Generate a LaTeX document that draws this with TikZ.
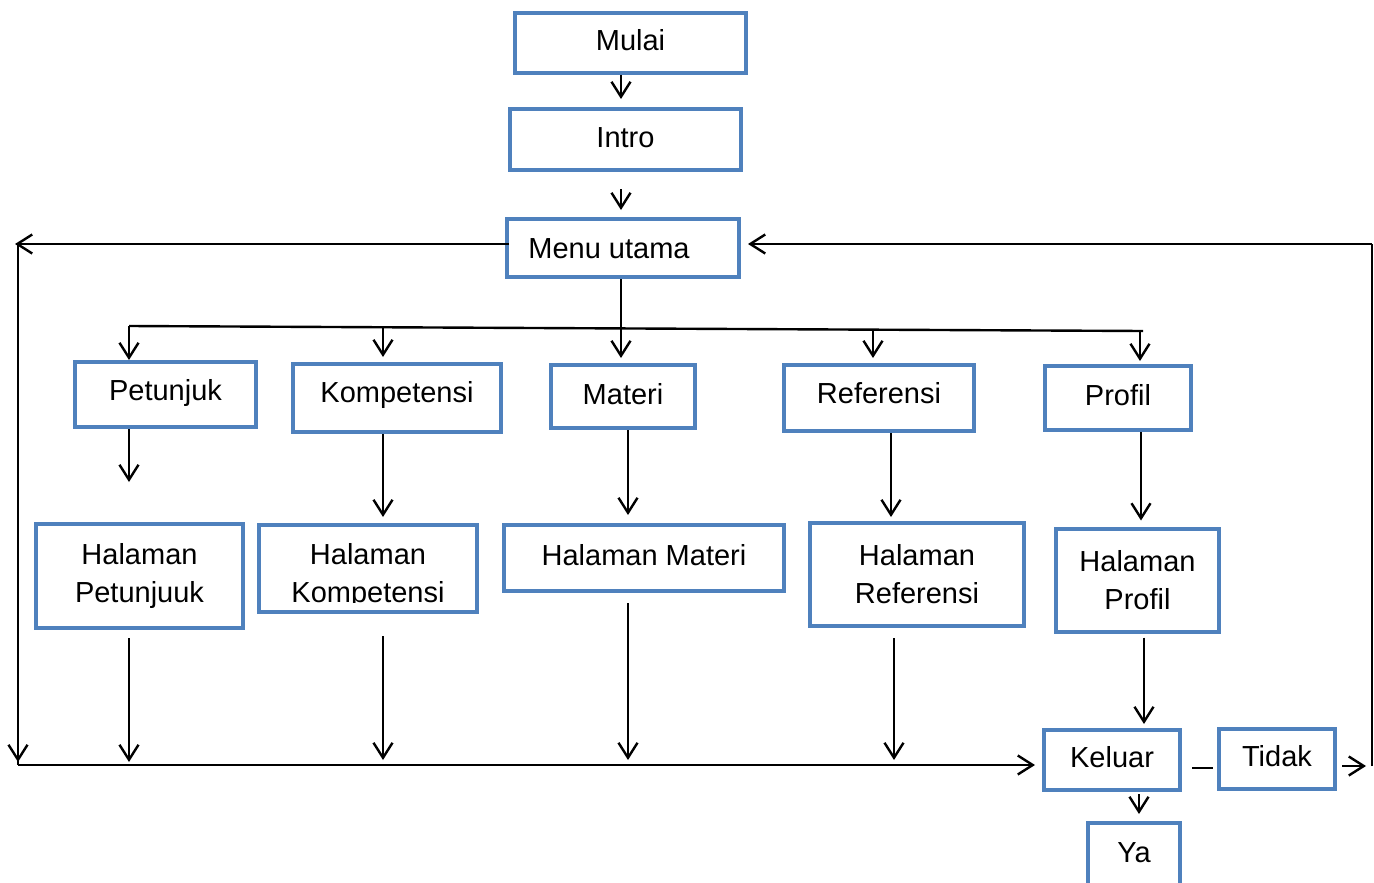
\documentclass[tikz,border=0pt]{standalone}
\usepackage{fontspec}
\setmainfont{Liberation Sans}
\usetikzlibrary{arrows.meta}
\definecolor{boxblue}{RGB}{79,129,189}
\begin{document}
\begin{tikzpicture}[x=1pt,y=-1pt,
  box/.style={draw=boxblue, line width=4pt, inner sep=0pt, align=center,
              font=\fontsize{29}{38}\selectfont},
  oneline/.style={text height=21pt, text depth=6pt},
  link/.style={line width=2.4pt, draw=black},
  arr/.style={link, -{Straight Barb[length=15pt,width=19pt,line width=2.4pt]}},
]
\useasboundingbox (0,0) rectangle (1374,883);

% ---- boxes ----
\node[box, oneline, minimum width=231pt, minimum height=60pt] (mulai) at (630.5,43) {Mulai};
\node[box, oneline, minimum width=231pt, minimum height=61pt] (intro) at (625.5,139.5) {Intro};
\node[box, text height=21pt, text depth=0pt, minimum width=232pt, minimum height=58pt] (menu) at (623,248) {\hspace*{-28pt}Menu utama};

\node[box, oneline, minimum width=181pt, minimum height=65pt] (petunjuk) at (165.5,394.5) {\raisebox{2pt}{Petunjuk}};
\node[box, oneline, minimum width=208pt, minimum height=68pt] (kompetensi) at (397,398) {\raisebox{3pt}{Kompetensi}};
\node[box, oneline, minimum width=144pt, minimum height=63pt] (materi) at (623,396.5) {Materi};
\node[box, oneline, minimum width=190pt, minimum height=66pt] (referensi) at (879,398) {\raisebox{2pt}{Referensi}};
\node[box, oneline, minimum width=146pt, minimum height=64pt] (profil) at (1118,398) {Profil};

\node[box, minimum width=207pt, minimum height=104pt] (hpetunjuk) at (139.5,576) {Halaman\\Petunjuuk};
% the second line of this page title runs into the frame and is cut off
\begin{scope}
  \clip (259,525) rectangle (477,602);
  \node[box, draw=none, minimum width=218pt, minimum height=87pt] (hkompetensi) at (368,575.5) {Halaman\\Kompetensi};
\end{scope}
\draw[draw=boxblue, line width=4pt] (259,525) rectangle (477,612);
\node[box, oneline, minimum width=280pt, minimum height=66pt] (hmateri) at (644,558) {Halaman Materi};
\node[box, minimum width=214pt, minimum height=103pt] (hreferensi) at (917,574.5) {Halaman\\Referensi};
\node[box, minimum width=163pt, minimum height=103pt] (hprofil) at (1137.5,580) {Halaman\\Profil};

\node[box, oneline, minimum width=136pt, minimum height=60pt] (keluar) at (1112,760) {Keluar};
\node[box, oneline, minimum width=116pt, minimum height=60pt] (tidak) at (1277,759) {Tidak};
% this box runs past the lower edge of the page
\node[box, oneline, minimum width=92pt, minimum height=100pt] (ya) at (1134,873) {\raisebox{18pt}{Ya}};

% ---- junction points ----
\coordinate (c1) at (129,326);
\coordinate (c2) at (383,327.3);
\coordinate (c3) at (621,328.4);
\coordinate (c4) at (873,329.7);
\coordinate (c5) at (1140,331);
\coordinate (c6) at (1143,331);
\coordinate (pfree) at (129,482);
\coordinate (mx) at (628,0);
\coordinate (rx) at (891,0);
\coordinate (fx) at (1141,0);
\coordinate (b1) at (129,765);
\coordinate (b2) at (383,765);
\coordinate (b3) at (628,765);
\coordinate (b4) at (894,765);
\coordinate (hx) at (1144,0);
\coordinate (yx) at (1139,0);
\coordinate (lt) at (18,244);
\coordinate (lb) at (18,765);
\coordinate (rt) at (1372,244);
\coordinate (rb) at (1372,766);

% ---- top chain ----
\draw[arr, shorten >=8pt] (mulai.south -| c3) -- (intro.north -| c3);
\draw[arr, shorten <=17pt, shorten >=7pt] (intro.south -| c3) -- (menu.north -| c3);

% ---- menu to sections ----
\draw[link] (c1) -- (c6);
\draw[arr] (c1) -- (petunjuk.north -| c1);
\draw[arr, shorten >=5pt] (c2) -- (kompetensi.north -| c2);
\draw[arr, shorten >=5pt] (menu.south -| c3) -- (materi.north -| c3);
\draw[arr, shorten >=5pt] (c4) -- (referensi.north -| c4);
\draw[arr, shorten >=3pt] (c5) -- (profil.north -| c5);

% ---- sections to pages ----
\draw[arr] (petunjuk.south -| pfree) -- (pfree);
\draw[arr, shorten >=13pt] (kompetensi.south -| c2) -- (hkompetensi.north -| c2);
\draw[arr, shorten >=8pt] (materi.south -| mx) -- (hmateri.north -| mx);
\draw[arr, shorten >=4pt] (referensi.south -| rx) -- (hreferensi.north -| rx);
\draw[arr, shorten >=6pt] (profil.south -| fx) -- (hprofil.north -| fx);

% ---- pages to exit ----
\draw[arr, shorten <=8pt, shorten >=3pt] (hpetunjuk.south -| b1) -- (b1);
\draw[arr, shorten <=15pt, shorten >=5pt] (hkompetensi.south -| b2) -- (b2);
\draw[arr, shorten <=10pt, shorten >=5pt] (hmateri.south -| b3) -- (b3);
\draw[arr, shorten <=10pt, shorten >=5pt] (hreferensi.south -| b4) -- (b4);
\draw[arr, shorten <=4pt, shorten >=4pt] (hprofil.south -| hx) -- (keluar.north -| hx);

% ---- left return path ----
\draw[arr, shorten <=-4pt, shorten >=-3pt] (menu.west |- lt) -- (lt);
\draw[arr] (lt) -- ([yshift=3pt]lb);
\draw[link] (lt) -- (lb);
\draw[arr, shorten >=7pt] (lb) -- (keluar.west |- lb);

% ---- exit choices ----
\draw[link, shorten <=10pt, shorten >=4pt] ([yshift=-8pt]keluar.east) -- ([yshift=-9pt]tidak.west);
\draw[arr, shorten <=2pt, shorten >=7pt] (keluar.south -| yx) -- (ya.north -| yx);
\draw[arr, shorten <=5pt, shorten >=6pt] (tidak.east |- rb) -- (rb);
\draw[link] (rb) -- (rt);
\draw[arr, shorten >=7pt] (rt) -- (menu.east |- rt);
\end{tikzpicture}
\end{document}
